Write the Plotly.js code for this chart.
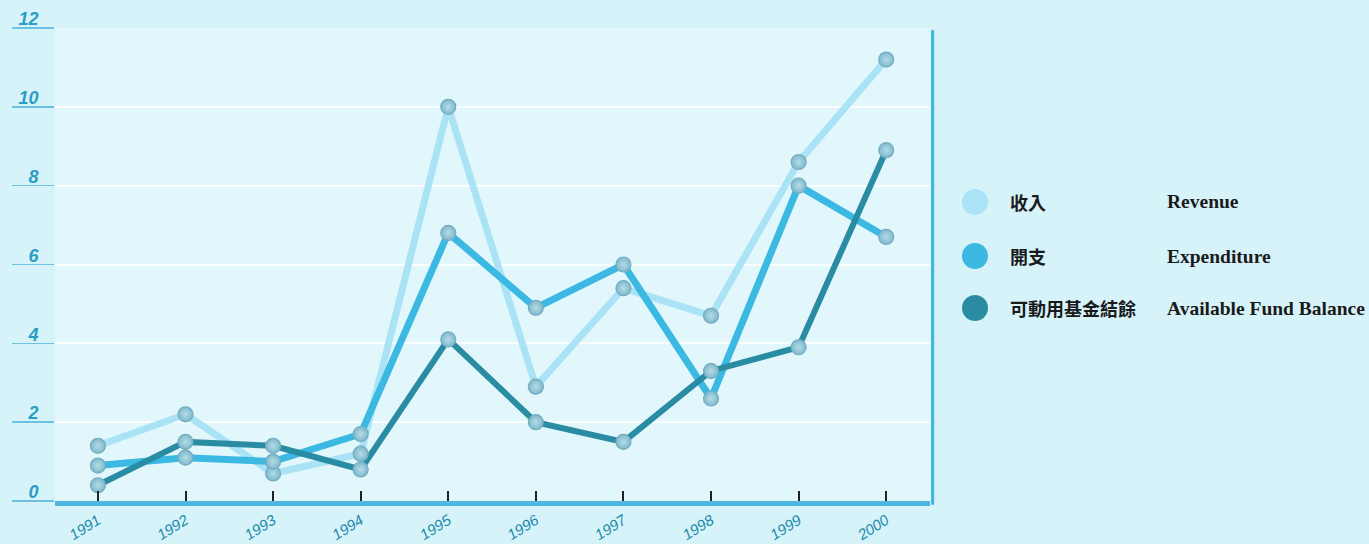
<!DOCTYPE html>
<html>
<head>
<meta charset="utf-8">
<script src="https://cdn.plot.ly/plotly-3.0.1.min.js"></script>
<style>html,body{margin:0;padding:0;background:#d6f3fa;}#chart{width:1369px;height:544px;}</style>
</head>
<body>
<div id="chart"></div>
<script>
const years = [1991, 1992, 1993, 1994, 1995, 1996, 1997, 1998, 1999, 2000];
const revenue = [1.4, 2.2, 0.7, 1.2, 10.0, 2.9, 5.4, 4.7, 8.6, 11.2];
const expenditure = [0.9, 1.1, 1.0, 1.7, 6.8, 4.9, 6.0, 2.6, 8.0, 6.7];
const balance = [0.4, 1.5, 1.4, 0.8, 4.1, 2.0, 1.5, 3.3, 3.9, 8.9];
const seriesZh = ['收入', '開支', '可動用基金結餘'];
const seriesEn = ['Revenue', 'Expenditure', 'Available Fund Balance'];
const seriesColors = ['#a9e3f5', '#3cb9e3', '#2a8ca3'];
const yTicks = [0, 2, 4, 6, 8, 10, 12];

const seriesData = [revenue, expenditure, balance];
const lineWidths = [7, 7, 6];
const traces = [];
seriesData.forEach((d, i) => {
  traces.push({x: years, y: d, type: 'scatter', mode: 'lines', name: seriesEn[i],
    line: {color: seriesColors[i], width: lineWidths[i]}, showlegend: false, hoverinfo: 'skip'});
});
seriesData.forEach((d, i) => {
  traces.push({x: years, y: d, type: 'scatter', mode: 'markers', name: seriesEn[i],
    marker: {size: 15, color: '#7fb8cb', gradient: {type: 'radial', color: '#b4dce8'},
      line: {color: '#74adc0', width: 1.2}}, showlegend: false});
});

const L = 55, R = 930, T = 28, B = 501;
const W = R - L, H = B - T;
const px = v => (v - L) / W;
const py = v => (B - v) / H;

const shapes = [
  {type: 'line', xref: 'paper', yref: 'paper', x0: 1.003, x1: 1.003, y0: -0.008, y1: 0.995,
   line: {color: '#3db5e2', width: 3}},
];
const annotations = [];
const rowY = [202, 256, 308];
seriesZh.forEach((t, i) => {
  shapes.push({type: 'circle', xref: 'paper', yref: 'paper', xsizemode: 'pixel', ysizemode: 'pixel',
    xanchor: px(975), yanchor: py(rowY[i]), x0: -13, x1: 13, y0: -13, y1: 13,
    fillcolor: seriesColors[i], line: {width: 0}});
  annotations.push({xref: 'paper', yref: 'paper', x: px(1008), y: py(rowY[i]), xanchor: 'left', yanchor: 'middle',
    text: '<b>' + t + '</b>', showarrow: false,
    font: {family: 'Noto Sans CJK TC', size: 18, color: '#1a1a1a'}});
  annotations.push({xref: 'paper', yref: 'paper', x: px(1165), y: py(rowY[i]), xanchor: 'left', yanchor: 'middle',
    text: '<b>' + seriesEn[i] + '</b>', showarrow: false,
    font: {family: 'Liberation Serif', size: 19.5, color: '#1a1a1a'}});
});

const layout = {
  width: 1369, height: 544,
  margin: {l: L, r: 1369 - R, t: T, b: 544 - B},
  paper_bgcolor: '#d6f3fa',
  plot_bgcolor: '#e2f7fc',
  showlegend: false,
  xaxis: {
    range: [1990.51, 2000.5], tickvals: years, ticktext: years.map(String),
    tickangle: -32, ticks: 'inside', ticklen: 10, tickwidth: 2, tickcolor: '#222',
    showgrid: false, zeroline: false, showline: true, linecolor: '#4db7df', linewidth: 5,
    tickfont: {family: 'Liberation Sans', size: 15, color: '#1a8aa9', style: 'italic'},
    fixedrange: true
  },
  yaxis: {
    range: [0, 12], tickvals: yTicks, ticktext: yTicks.map(String),
    ticks: 'outside', ticklen: 42, tickwidth: 1.5, tickcolor: '#6cc2e3',
    ticklabelstandoff: -30, ticklabelshift: -9,
    showgrid: true, gridcolor: 'rgba(255,255,255,0.85)', gridwidth: 2,
    zeroline: false, showline: false,
    tickfont: {family: 'Liberation Sans', size: 18, color: '#2a9dc4', style: 'italic', weight: 'bold'},
    fixedrange: true
  },
  shapes: shapes,
  annotations: annotations
};

Plotly.newPlot('chart', traces, layout, {staticPlot: true});
</script>
</body>
</html>
